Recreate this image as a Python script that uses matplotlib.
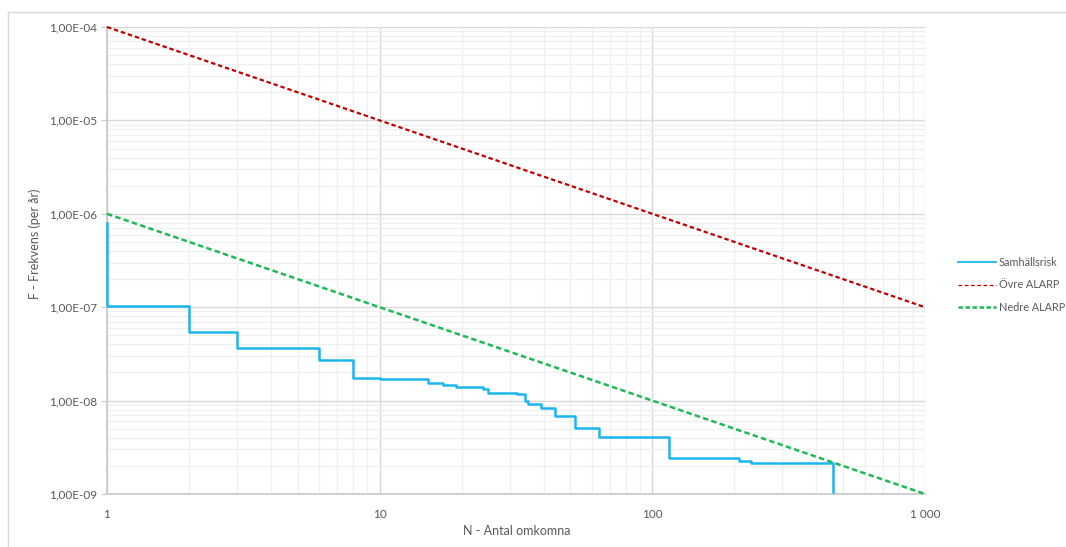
import matplotlib
matplotlib.use("Agg")
import matplotlib.pyplot as plt
from matplotlib.ticker import LogLocator, NullFormatter
from matplotlib.lines import Line2D

plt.rcParams['font.family'] = ['Lato', 'DejaVu Sans']

# Data
risk_N = [1, 1, 2, 3, 6, 8, 10, 15, 17, 19, 22, 24, 25, 32, 34, 35, 39, 44, 52, 64, 115, 208, 230, 458, 458]
risk_F = [8.0e-7, 1.03e-7, 5.4e-8, 3.7e-8, 2.7e-8, 1.73e-8, 1.70e-8, 1.53e-8, 1.48e-8, 1.41e-8,
          1.39e-8, 1.32e-8, 1.22e-8, 1.17e-8, 9.97e-9, 9.1e-9, 8.4e-9, 6.84e-9, 5.05e-9, 4.04e-9,
          2.45e-9, 2.28e-9, 2.13e-9, 2.13e-9, 1.05e-9]
alarp_N = [1, 1000]
ovre_F = [1e-4, 1e-7]
nedre_F = [1e-6, 1e-9]

x_ticks = [1, 10, 100, 1000]
x_labels = ["1", "10", "100", "1 000"]
y_ticks = [1e-9, 1e-8, 1e-7, 1e-6, 1e-5, 1e-4]
y_labels = ["1,00E-09", "1,00E-08", "1,00E-07", "1,00E-06", "1,00E-05", "1,00E-04"]

W, H = 1066, 547
fig = plt.figure(figsize=(W / 100, H / 100), dpi=100)
ax = fig.add_axes([107 / W, 1 - 494 / H, (925 - 107) / W, (494 - 27) / H])

ax.set_xscale('log')
ax.set_yscale('log')
ax.set_xlim(1, 1000)
ax.set_ylim(1e-9, 1e-4)

ax.set_xticks(x_ticks)
ax.set_xticklabels(x_labels)
ax.set_yticks(y_ticks)
ax.set_yticklabels(y_labels)
ax.xaxis.set_minor_locator(LogLocator(base=10, subs=range(2, 10)))
ax.yaxis.set_minor_locator(LogLocator(base=10, subs=range(2, 10)))
ax.xaxis.set_minor_formatter(NullFormatter())
ax.yaxis.set_minor_formatter(NullFormatter())

ax.grid(which='major', color='#D9D9D9', linewidth=1.0, zorder=0)
ax.grid(which='minor', color='#EFEFEF', linewidth=0.9, zorder=0)
ax.set_axisbelow(True)

for s in ['top', 'right']:
    ax.spines[s].set_visible(False)
for s in ['left', 'bottom']:
    ax.spines[s].set_color('#C8C8C8')
    ax.spines[s].set_linewidth(1.2)

ax.tick_params(axis='x', which='both', length=0, pad=11, labelsize=8.5, labelcolor='#595959')
ax.tick_params(axis='y', which='major', length=4, color='#C8C8C8', pad=3, labelsize=8.5, labelcolor='#595959')
ax.tick_params(axis='y', which='minor', length=0)

l1, = ax.plot(risk_N, risk_F, drawstyle='steps-post', color='#1CB5F0', linewidth=1.8,
              label='Samhällsrisk', zorder=3, clip_on=False)
l2, = ax.plot(alarp_N, ovre_F, color='#C00000', linewidth=1.6, dashes=(2.0, 1.3),
              label='Övre ALARP', zorder=3, clip_on=False)
l3, = ax.plot(alarp_N, nedre_F, color='#1DB954', linewidth=1.8, dashes=(2.2, 1.3),
              label='Nedre ALARP', zorder=3, clip_on=False)

h1 = Line2D([], [], color='#1CB5F0', linewidth=1.3)
h2 = Line2D([], [], color='#C00000', linewidth=0.9, dashes=(3, 2))
h3 = Line2D([], [], color='#1DB954', linewidth=1.8, dashes=(1.8, 1.0))
leg = fig.legend([h1, h2, h3], ['Samhällsrisk', 'Övre ALARP', 'Nedre ALARP'],
                 loc='upper left', bbox_to_anchor=(958 / W, 1 - 257 / H),
                 frameon=False, fontsize=7.8, handlelength=3.5, handletextpad=0.25,
                 labelspacing=1.05, borderaxespad=0, borderpad=0)
for t in leg.get_texts():
    t.set_color('#595959')

fig.text(35 / W, 1 - 244 / H, 'F - Frekvens (per år)', rotation=90, ha='center', va='center',
         fontsize=9, color='#595959')
fig.text(517 / W, 1 - 531 / H, 'N - Antal omkomna', ha='center', va='center',
         fontsize=9, color='#595959')

# outer border
fig.add_artist(Line2D([8 / W, 1], [1 - 12 / H, 1 - 12 / H], color='#D9D9D9', linewidth=1.0,
                      transform=fig.transFigure))
fig.add_artist(Line2D([8 / W, 8 / W], [0, 1 - 12 / H], color='#D9D9D9', linewidth=1.0,
                      transform=fig.transFigure))

fig.savefig('out.png', dpi=100)
